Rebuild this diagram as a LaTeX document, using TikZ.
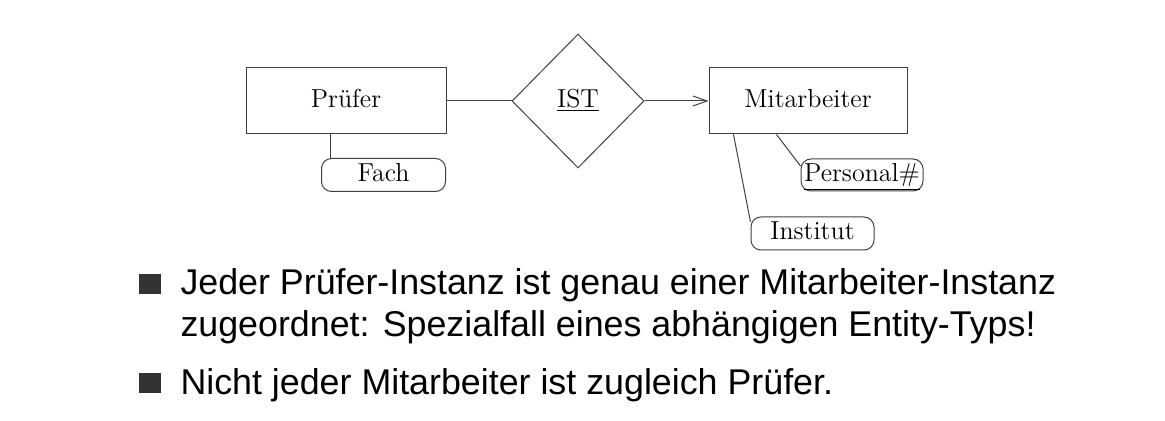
\documentclass[tikz,border=0pt]{standalone}
\usepackage{fontspec}
\newfontfamily\slidefont{Liberation Sans}
\usetikzlibrary{shapes.geometric}
\usetikzlibrary{positioning}
\usetikzlibrary{arrows.meta}

\begin{document}
\begin{tikzpicture}[x=0.5pt,y=0.5pt,
line width=0.5pt,
>={Straight Barb[length=7pt,width=5pt]},
lbl/.style={font=\fontsize{13}{15}\selectfont,text height=9pt,text depth=2.5pt},
entity/.style={lbl,rectangle,draw=black!75,minimum width=100pt,minimum height=33pt,inner sep=0pt},
rel/.style={lbl,diamond,draw=black!75,minimum width=66pt,minimum height=67pt,inner sep=0pt},
attr/.style={lbl,rectangle,rounded corners=5pt,draw=black!75,minimum width=62pt,minimum height=16.5pt,inner sep=0pt},
bull/.style={rectangle,fill=black!80,minimum width=11pt,minimum height=10pt,inner sep=0pt},
txt/.style={anchor=base west,inner sep=0pt,font=\slidefont\fontsize{17.9}{21}\selectfont}]
\useasboundingbox (0,0) rectangle (1165,-421);
% ER diagram
\node [entity] (pruefer) at (346,-101) {Prüfer};
\node [rel] (ist) at (578,-101) {\underline{IST}};
\node [entity,minimum width=99pt] (mitarb) at (808,-101) {Mitarbeiter};
\node [attr] (fach) at (383.5,-175) {Fach};
\node [attr,minimum width=61pt,minimum height=16pt] (personal) at (862,-175) {\underline{Personal\#}};
\node [attr,minimum width=61.5pt] (institut) at (812.5,-233.5) {Institut};
\draw [black!75] (pruefer) -- (ist);
\draw [black!75,->] (ist) -- (mitarb);
\draw [black!75] ([xshift=4.5pt]fach.north west) -- ([xshift=4.5pt]fach.north west |- pruefer.south);
\draw [black!75] ([xshift=34pt]mitarb.south west) -- ([yshift=4.5pt]personal.west);
\draw [black!75] ([xshift=12.5pt]mitarb.south west) -- ([yshift=5.75pt]institut.west);
% bullet list
\node [bull] (b1) at (150,-284) {};
\node [txt] (t1) at (180,-295) {Jeder Prüfer-Instanz ist genau einer Mitarbeiter-Instanz};
\node [txt] (t1b) at (180,-337) {zugeordnet: Spezialfall eines abhängigen Entity-Typs!};
\node [bull] (b2) at (150,-383) {};
\node [txt] (t2) at (180,-394) {Nicht jeder Mitarbeiter ist zugleich Prüfer.};
\end{tikzpicture}
\end{document}
